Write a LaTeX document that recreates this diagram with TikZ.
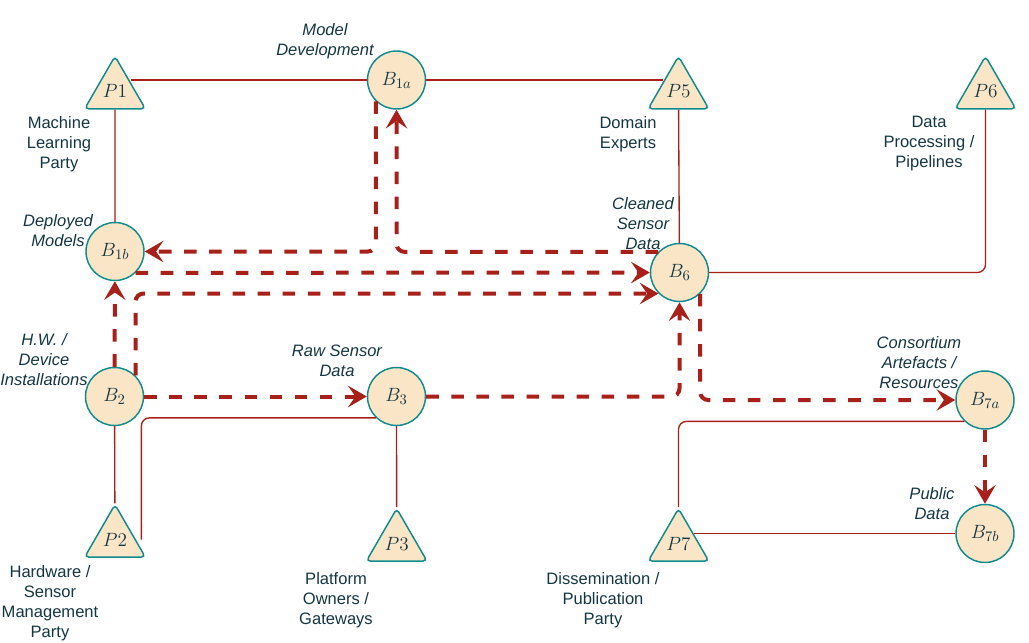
\documentclass[tikz,border=0pt]{standalone}
\usepackage{amsmath}
\usepackage{fontspec}
\setmainfont{Liberation Sans}
\usetikzlibrary{shapes.geometric,arrows.meta}
\definecolor{edgered}{HTML}{A8201A}
\definecolor{nodeteal}{HTML}{0F8B8D}
\definecolor{nodefill}{HTML}{FAE5C7}
\definecolor{labelink}{HTML}{143642}
\begin{document}
\begin{tikzpicture}[x=0.75pt,y=0.75pt,
  block/.style={circle,draw=nodeteal,fill=nodefill,line width=1.1pt,minimum size=43.5pt,inner sep=0pt,text=labelink,font=\fontsize{15.5}{18}\selectfont},
  party/.style={regular polygon,regular polygon sides=3,draw=nodeteal,fill=nodefill,line width=1.1pt,minimum size=52.5pt,inner sep=0pt,rounded corners=3pt,text=labelink,font=\fontsize{14}{16}\selectfont},
  ptag/.style={align=center,inner sep=0pt,yshift=-1.9pt,text=labelink,font=\fontsize{12.4}{15}\selectfont},
  btag/.style={ptag,font=\fontsize{12.4}{15}\selectfont\itshape},
  link/.style={draw=edgered,line width=1pt},
  flow/.style={draw=edgered,line width=3pt,dash pattern=on 9.4pt off 9.4pt,rounded corners=6pt,-{Stealth[length=14pt,width=16pt,inset=5.5pt]}}]
\useasboundingbox (0,0) rectangle (1029,-643);
% parties
\node [party] (P1) at (115,-91.3) {$P1$};
\node [party] (P5) at (678.5,-91.3) {$P5$};
\node [party] (P6) at (985.5,-91.3) {$P6$};
\node [party] (P2) at (115,-539.6) {$P2$};
\node [party] (P3) at (396.7,-543.6) {$P3$};
\node [party] (P7) at (678.5,-543.6) {$P7$};
% blocks
\node [block] (B1a) at (396.5,-80) {$B_{1a}$};
\node [block] (B1b) at (115,-251.5) {$B_{1b}$};
\node [block] (B6) at (679.5,-272.5) {$B_{6}$};
\node [block] (B2) at (114.5,-396.5) {$B_{2}$};
\node [block] (B3) at (396.5,-396.5) {$B_{3}$};
\node [block] (B7a) at (985,-400) {$B_{7a}$};
\node [block] (B7b) at (985,-533.5) {$B_{7b}$};
% labels
\node [btag] (devtag) at (325,-38.5) {Model\\Development};
\node [ptag] (mlptag) at (59,-141.5) {Machine\\Learning\\Party};
\node [btag] (deptag) at (58,-228.5) {Deployed\\Models};
\node [ptag] (domtag) at (628,-131.5) {Domain\\Experts};
\node [ptag] (piptag) at (929,-140.5) {Data\\Processing /\\Pipelines};
\node [btag] (cletag) at (643,-221.5) {Cleaned\\Sensor\\Data};
\node [btag] (hwtag) at (44,-357.5) {H.W. /\\Device\\Installations};
\node [btag] (rawtag) at (337,-358.5) {Raw Sensor\\Data};
\node [ptag] (hsmtag) at (50,-601) {Hardware /\\Sensor\\Management\\Party};
\node [ptag] (pogtag) at (336,-598) {Platform\\Owners /\\Gateways};
\node [ptag] (dpptag) at (603,-598) {Dissemination /\\Publication\\Party};
\node [btag] (cartag) at (919,-360.5) {Consortium\\Artefacts /\\Resources};
\node [btag] (pubtag) at (932,-501) {Public\\Data};
% links
\draw [link] (B1a) -- (P1.side 3 |- B1a);
\draw [link] (B1a) -- (P5.side 1 |- B1a);
\draw [link] (P1) -- (B1b);
\draw [link] (P5) -- (B6);
\draw [link,rounded corners=6pt] (B6) -| (P6.side 2);
\draw [link] (B2) -- (P2);
\draw [link,rounded corners=6pt] ([xshift=4pt]P2.0) |- (B3.226);
\draw [link] (B3) -- (P3);
\draw [link,rounded corners=6pt] (P7.corner 1) |- (B7a.226);
\draw [link] (P7.side 3 |- B7b) -- (B7b);
% flows
\draw [flow] (B1a.226) |- (B1b);
\draw [flow] (B6.136) -| (B1a);
\draw [flow] (B1b.-46) -- (B6);
\draw [flow] (B2.45) |- (B6.225);
\draw [flow] (B2) -- (B1b);
\draw [flow] (B2) -- (B3);
\draw [flow] (B3) -| (B6);
\draw [flow] (B6.-46) |- (B7a);
\draw [flow] (B7a) -- (B7b);
\end{tikzpicture}
\end{document}
